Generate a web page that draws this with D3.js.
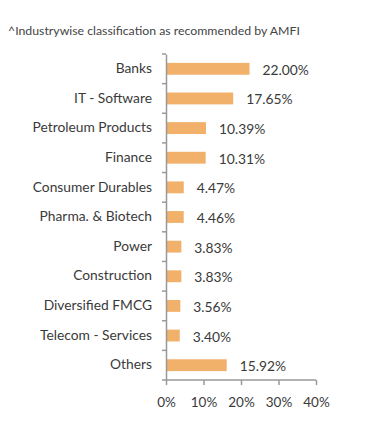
<!DOCTYPE html>
<html><head><meta charset="utf-8">
<script src="https://cdn.jsdelivr.net/npm/d3@7"></script>
<style>body{margin:0;background:#fff}svg{display:block}text{font-family:Lato,"Open Sans",sans-serif}</style>
</head><body><div id="chart"></div>
<script>
const categories = ["Banks","IT - Software","Petroleum Products","Finance","Consumer Durables","Pharma. & Biotech","Power","Construction","Diversified FMCG","Telecom - Services","Others"];
const values = [22.00,17.65,10.39,10.31,4.47,4.46,3.83,3.83,3.56,3.40,15.92];
const tickValues = [0,10,20,30,40];
const title = "^Industrywise classification as recommended by AMFI";

const W=391,H=439;
const svg=d3.select("#chart").append("svg").attr("width",W).attr("height",H);
const x=d3.scaleLinear().domain([0,40]).range([166,316]);
const y=d3.scaleBand().domain(categories).range([54,380]).paddingInner(0.6).paddingOuter(0.3);

svg.append("text").attr("x",8).attr("y",35).attr("font-size",12.3).attr("fill","#444").text(title);

svg.append("g").selectAll("rect").data(values).join("rect")
 .attr("x",x(0)+1).attr("y",(d,i)=>y(categories[i]))
 .attr("width",d=>x(d)-x(0)).attr("height",y.bandwidth()).attr("fill","#F1B16B");

svg.append("g").selectAll("text").data(values).join("text")
 .attr("x",d=>x(d)+14).attr("y",(d,i)=>y(categories[i])+y.bandwidth()/2+6)
 .attr("font-size",13.8).attr("fill","#3a3a3a").text(d=>d.toFixed(2)+"%");

// y axis
const yb=d3.scaleBand().domain(categories).range([54,380]);
const gy=svg.append("g").attr("transform",`translate(${x(0)},0)`)
 .call(d3.axisLeft(yb).tickSize(0).tickPadding(14));
gy.select(".domain").attr("stroke","#999").attr("stroke-width",1.5);
gy.selectAll("text").attr("font-size",13.8).attr("fill","#3a3a3a").attr("font-family","Lato").attr("dy","0.3em");
const bounds=categories.map(c=>yb(c)).concat([380]);
gy.selectAll(".sep").data(bounds).join("line").attr("class","sep")
 .attr("x1",-4).attr("x2",0).attr("y1",d=>d).attr("y2",d=>d).attr("stroke","#999").attr("stroke-width",1.5);

const gx=svg.append("g").attr("transform","translate(0,380)")
 .call(d3.axisBottom(x).tickValues(tickValues).tickSize(5).tickPadding(12).tickFormat(d=>d+"%"));
gx.select(".domain").attr("stroke","#999").attr("stroke-width",1.5).attr("d","M166,0H316");
gx.selectAll(".tick line").attr("stroke","#999").attr("stroke-width",1.5);
gx.selectAll("text").attr("font-size",13.5).attr("fill","#3a3a3a").attr("font-family","Lato");
</script></body></html>
